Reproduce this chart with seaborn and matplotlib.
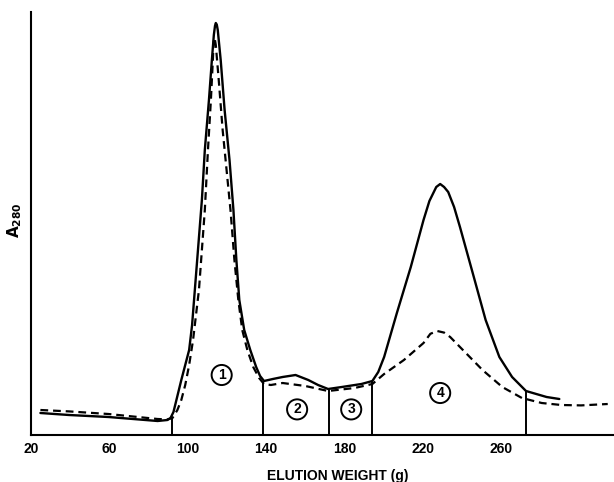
import numpy as np
import matplotlib
matplotlib.use("Agg")
import matplotlib.pyplot as plt
import seaborn as sns

# elution weight (g) and A280 (arbitrary units)
solid_x = [24.8, 39.4, 59.5, 74.6, 84.6, 89.6, 91.2, 92.7, 94.2, 96.7, 98.7, 100.7,
           102.2, 103.2, 105.2, 107.2, 108.7, 110.8, 112.3, 113.3, 113.9, 114.3, 114.8,
           115.3, 116.8, 118.8, 121.3, 123.3, 124.8, 126.3, 128.8, 131.9, 134.9, 136.9,
           138.9, 143.4, 148.4, 155.0, 161.5, 166.5, 171.6, 178.6, 188.6, 194.2, 197.2,
           200.2, 206.7, 213.8, 220.3, 223.3, 226.8, 228.8, 230.8, 232.9, 235.9, 238.9,
           245.4, 252.0, 259.0, 265.5, 272.6, 283.1, 289.6]
solid_y = [5.5, 5.0, 4.5, 3.9, 3.5, 3.75, 4.25, 5.75, 8.75, 13.75, 17.5, 21.25,
           27.5, 33.75, 46.25, 58.75, 71.25, 83.75, 93.75, 100.0, 102.3, 103.0, 102.6,
           101.25, 93.75, 81.25, 68.75, 56.25, 43.75, 33.75, 26.25, 21.25, 17.0, 14.75,
           13.5, 14.0, 14.5, 15.0, 13.75, 12.5, 11.5, 12.0, 12.75, 13.5, 15.75,
           19.5, 30.5, 42.0, 53.75, 58.5, 62.0, 62.75, 62.0, 60.75, 57.0, 52.0,
           40.5, 28.75, 19.5, 14.5, 11.0, 9.5, 9.0]

dashed_x = [24.8, 39.4, 59.5, 74.6, 84.6, 89.6, 92.2, 94.7, 96.7, 98.7, 100.7, 102.7,
            104.2, 105.7, 107.2, 108.7, 110.3, 111.8, 112.8, 113.3, 113.8, 114.3, 115.8,
            117.8, 119.8, 121.8, 123.8, 125.8, 127.8, 130.4, 133.4, 136.4, 138.9, 142.4,
            148.4, 160.0, 171.6, 185.1, 194.2, 200.2, 210.3, 220.3, 223.8, 227.3, 230.8,
            233.9, 241.9, 250.4, 260.5, 270.5, 280.6, 290.6, 300.7, 314.3]
dashed_y = [6.25, 5.9, 5.25, 4.5, 4.0, 3.9, 4.25, 6.25, 8.75, 12.5, 17.5, 23.75,
            30.0, 36.25, 46.25, 56.25, 71.25, 83.75, 93.75, 99.25, 99.0, 97.5, 88.75,
            76.25, 66.25, 56.25, 43.75, 33.75, 26.25, 21.25, 17.0, 14.25, 12.75, 12.5,
            13.0, 12.25, 11.0, 11.75, 12.75, 15.25, 18.75, 23.0, 25.3, 26.0, 25.6,
            24.5, 20.5, 16.25, 12.0, 9.25, 8.0, 7.5, 7.4, 7.75]

# fraction cut points and where each cut meets the trace
cut_x = [92.0, 138.4, 172.0, 194.0, 272.6]
cut_top = [4.5, 13.5, 11.5, 13.5, 11.0]

fraction_labels = ['1', '2', '3', '4']
fraction_x = [117.3, 155.8, 183.4, 228.8]
fraction_y = [15.0, 6.4, 6.4, 10.5]

xticks = [20, 60, 100, 140, 180, 220, 260]

sns.set_style('white')
plt.rcParams['font.family'] = ['Liberation Sans', 'DejaVu Sans']
plt.rcParams['text.color'] = 'black'
plt.rcParams['xtick.color'] = 'black'

fig = plt.figure(figsize=(6.14, 4.82), dpi=100)
ax = fig.add_axes([31 / 614, 47 / 482, 583 / 614, 423 / 482])

sns.lineplot(x=solid_x, y=solid_y, ax=ax, color='black', lw=1.7,
             estimator=None, sort=False)
sns.lineplot(x=dashed_x, y=dashed_y, ax=ax, color='black', lw=1.6,
             linestyle=(0, (3.5, 2.2)), estimator=None, sort=False)

ax.vlines(cut_x, 0, cut_top, color='black', lw=1.4)

for lab, fx, fy in zip(fraction_labels, fraction_x, fraction_y):
    ax.text(fx, fy, lab, ha='center', va='center', fontsize=10, fontweight='bold',
            color='black',
            bbox=dict(boxstyle='circle,pad=0.22', fc='white', ec='black', lw=1.4))

ax.set_xlim(20, 317.5)
ax.set_ylim(0, 105.75)
ax.set_xticks(xticks)
ax.set_xticklabels([str(t) for t in xticks], fontsize=10, fontweight='bold',
                   color='black')
ax.set_yticks([])
ax.tick_params(axis='x', direction='in', length=5, width=1.4, pad=5, colors='black')
for side in ['top', 'right']:
    ax.spines[side].set_visible(False)
for side in ['left', 'bottom']:
    ax.spines[side].set_linewidth(1.5)
    ax.spines[side].set_color('black')

fig.text(338 / 614, 1 - 476 / 482, 'ELUTION WEIGHT (g)', ha='center', va='center',
         fontsize=10, fontweight='bold', color='black')
fig.text(15 / 614, 1 - 220 / 482, r'$\mathbf{A_{280}}$', ha='center', va='center',
         rotation=90, fontsize=11, color='black')

fig.savefig('out.png', dpi=100)
